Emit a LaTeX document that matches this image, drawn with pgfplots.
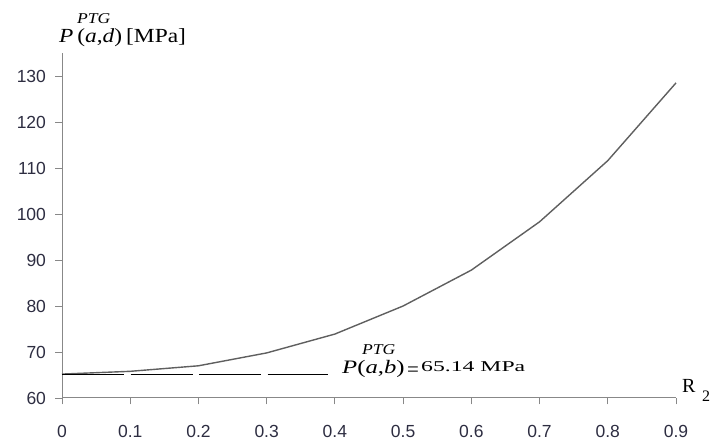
\documentclass[border=0pt]{standalone}
\usepackage{fontspec}
\setmainfont{Liberation Serif}
\setsansfont{Liberation Sans}
\usepackage{graphicx}
\usepackage{pgfplots}
\pgfplotsset{compat=1.18}
\definecolor{axisgray}{RGB}{136,136,136}
\definecolor{curvegray}{RGB}{95,95,95}
\definecolor{ticktext}{RGB}{45,45,65}
\begin{document}
\begin{tikzpicture}
\useasboundingbox (0,0) rectangle (713pt,441pt);
\begin{axis}[
  at={(62pt,43pt)}, anchor=south west,
  scale only axis, width=614pt, height=345pt,
  xmin=0, xmax=0.9, ymin=60, ymax=135,
  axis x line*=bottom, axis y line*=left,
  axis line style={axisgray, line width=1pt, -},
  xtick={0,0.1,0.2,0.3,0.4,0.5,0.6,0.7,0.8,0.9},
  xticklabels={0,0.1,0.2,0.3,0.4,0.5,0.6,0.7,0.8,0.9},
  ytick={60,70,80,90,100,110,120,130},
  tick align=outside, major tick length=6.5pt,
  tick style={axisgray, line width=0.8pt},
  /pgf/number format/assume math mode=true,
  xticklabel style={anchor=north, yshift=-17pt, font=\fontsize{17.5}{19}\sffamily\selectfont, text=ticktext},
  yticklabel style={anchor=east, xshift=-6pt, font=\fontsize{17.5}{19}\sffamily\selectfont, text=ticktext},
  clip=false,
]
\addplot[curvegray, line width=1.4pt] coordinates {
  (0,65.2) (0.1,65.8) (0.2,67.0) (0.3,69.8) (0.4,73.9)
  (0.5,80.0) (0.6,87.8) (0.7,98.3) (0.8,111.6) (0.9,128.5)};
\addplot[black, line width=1.2pt, dash pattern=on 62pt off 6.5pt] coordinates {
  (0,65.14) (0.39,65.14)};
\end{axis}
% y axis label
\node[anchor=base west, inner sep=0] at (59pt,398pt)
  {\scalebox{1.17}[1]{\fontsize{20}{22}\selectfont\textit{P}\,(\textit{a},\textit{d})\,[MPa]}};
\node[anchor=base west, inner sep=0] at (77pt,417pt)
  {\scalebox{1.17}[1]{\fontsize{15}{17}\selectfont\textit{PTG}}};
% reference value label
\node[anchor=base west, inner sep=0] at (342pt,67pt)
  {\scalebox{1.3}[1]{\fontsize{19}{21}\selectfont\textit{P}(\textit{a},\textit{b})}};
\node[anchor=base west, inner sep=0] at (362pt,86pt)
  {\scalebox{1.17}[1]{\fontsize{15}{17}\selectfont\textit{PTG}}};
\node[anchor=base west, inner sep=0] at (407pt,64pt)
  {\fontsize{21}{23}\selectfont =};
\node[anchor=base west, inner sep=0] at (421pt,69pt)
  {\scalebox{1.58}[1]{\fontsize{15}{17}\selectfont 65.14 MPa}};
% x axis label
\node[anchor=base west, inner sep=0] at (682pt,48pt)
  {\fontsize{20}{22}\selectfont R};
\node[anchor=base west, inner sep=0] at (702pt,39pt)
  {\fontsize{16}{18}\selectfont 2};
\end{tikzpicture}
\end{document}
